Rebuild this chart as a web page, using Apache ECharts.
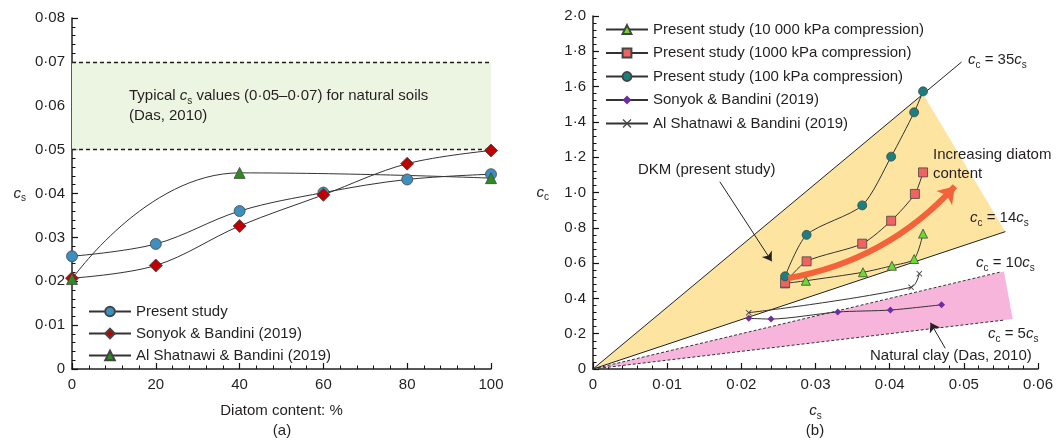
<!DOCTYPE html>
<html>
<head>
<meta charset="UTF-8">
<title>cs and cc</title>
<script src="https://cdn.jsdelivr.net/npm/echarts@6/dist/echarts.min.js"></script>
<style>
  html, body { margin: 0; background: #fff; }
  #chart { width: 1059px; height: 441px; }
</style>
</head>
<body>
<div id="chart"></div>
<script>
// (a) cs against diatom content
var diatom = [0, 20, 40, 60, 80, 100];
var presentCs = [0.0257, 0.0285, 0.0360, 0.0402, 0.0432, 0.0444];
var sonyokCs = [0.0207, 0.0236, 0.0326, 0.0397, 0.0468, 0.0498];
var shatDiatom = [0, 40, 100];
var shatCs = [0.0205, 0.0447, 0.0435];
var typicalBand = [0.05, 0.07];

// (b) cc against cs
var cs100 = [0.0259, 0.0288, 0.0363, 0.0402, 0.0433, 0.0445];
var cc100 = [0.525, 0.760, 0.927, 1.203, 1.454, 1.573];
var cs1000 = [0.0259, 0.0288, 0.0363, 0.0402, 0.0434, 0.0445];
var cc1000 = [0.489, 0.610, 0.710, 0.840, 0.992, 1.114];
var cs10000 = [0.0259, 0.0287, 0.0364, 0.0403, 0.0433, 0.0445];
var cc10000 = [0.485, 0.500, 0.548, 0.585, 0.623, 0.767];
var sonyokX = [0.0210, 0.0240, 0.0330, 0.0401, 0.0470];
var sonyokY = [0.287, 0.283, 0.323, 0.334, 0.364];
var shatX = [0.0210, 0.0429, 0.0440];
var shatY = [0.319, 0.463, 0.540];

// cc = k*cs guide lines, and the cs where each stops
var slopes = [35, 14, 10, 5];
var slopeEnds = [0.0497, 0.0556, 0.0550, 0.0555];
// shaded zones (corners in cs, cc)
var dkmZone = [[0, 0], [0.0445, 1.558], [0.0556, 0.778]];
var clayZone = [[0, 0], [0.0554, 0.552], [0.0566, 0.283]];
// arrows (start, end)
var trendArrow = [[0.0263, 0.514], [0.0488, 1.035]];
var dkmArrow = [[0.0171, 1.061], [0.0241, 0.610]];
var clayArrow = [[0.0475, 0.117], [0.0455, 0.262]];

var legendA = ['Present study', 'Sonyok & Bandini (2019)', 'Al Shatnawi & Bandini (2019)'];
// trailing space keeps the (b) names apart from the (a) ones in the legends
var legendB = ['Present study (10 000 kPa compression)', 'Present study (1000 kPa compression)',
               'Present study (100 kPa compression)', 'Sonyok & Bandini (2019) ', 'Al Shatnawi & Bandini (2019) '];

var ink = '#231f20';
var FONT = 'Liberation Sans, Arial, sans-serif';

function pairs(xs, ys) {
    return xs.map(function (x, i) { return [x, ys[i]]; });
}
function dot(v, d) {
    return v === 0 ? '0' : v.toFixed(d).replace('.', '·');
}

var rich = {
    i: { fontStyle: 'italic', fontSize: 15, fontFamily: FONT, color: ink, lineHeight: 20 },
    s: { fontSize: 10, fontFamily: FONT, color: ink, verticalAlign: 'bottom', lineHeight: 12 },
    n: { fontSize: 15, fontFamily: FONT, color: ink }
};

function axisBase(extra) {
    var a = {
        type: 'value',
        axisLine: { show: true, onZero: false, lineStyle: { color: ink, width: 1.5 } },
        axisTick: { show: true, inside: true, length: 6, lineStyle: { color: '#111', width: 1.2 } },
        minorTick: { show: true, splitNumber: 5, length: 3.5, lineStyle: { color: '#111', width: 1 } },
        splitLine: { show: false },
        nameTextStyle: { color: ink, fontSize: 15, fontFamily: FONT, rich: rich }
    };
    for (var k in extra) a[k] = extra[k];
    return a;
}

// tick labels: font and colour come through rich text
function tickLabel(margin, fmt) {
    return { margin: margin, rich: rich, formatter: function (v) { return '{n|' + fmt(v) + '}'; } };
}

// free text, centred vertically on y
function note(x, y, text, align) {
    return {
        text: text, left: x, top: y - 10, padding: 0, textAlign: align || 'left',
        textStyle: { color: ink, fontSize: 15, fontFamily: FONT, fontWeight: 'normal', lineHeight: 20, rich: rich }
    };
}

function lineSeries(name, data, xi, sym, size, color, extra) {
    var s = {
        name: name, type: 'line', xAxisIndex: xi, yAxisIndex: xi, data: data,
        smooth: 0.35, symbol: sym, symbolSize: size, z: 5,
        lineStyle: { color: '#333', width: 1 },
        itemStyle: { color: color, borderColor: '#444', borderWidth: 0.8 }
    };
    for (var k in extra) s[k] = extra[k];
    return s;
}

var crossPath = 'path://M0,1L1,0L5,4L9,0L10,1L6,5L10,9L9,10L5,6L1,10L0,9L4,5Z';

var series = [
    lineSeries(legendA[0], pairs(diatom, presentCs), 0, 'circle', 11, '#3d8fbf', {
        markArea: {
            silent: true, itemStyle: { color: '#ecf5e1' },
            data: [[{ xAxis: 0, yAxis: typicalBand[0] }, { xAxis: 100, yAxis: typicalBand[1] }]]
        },
        markLine: {
            silent: true, symbol: 'none', label: { show: false },
            lineStyle: { color: ink, type: [4, 3], width: 1.3 },
            data: typicalBand.map(function (v) { return { yAxis: v }; })
        }
    }),
    lineSeries(legendA[1], pairs(diatom, sonyokCs), 0, 'diamond', 13, '#c00000'),
    lineSeries(legendA[2], pairs(shatDiatom, shatCs), 0, 'triangle', 11, '#2e8b22', { smooth: 0.5 }),

    // zones in (b)
    {
        type: 'custom', xAxisIndex: 1, yAxisIndex: 1, silent: true, z: 1, data: [[0, 0]],
        renderItem: function (p, api) {
            return {
                type: 'group', children: [
                    { type: 'polygon', shape: { points: dkmZone.map(function (c) { return api.coord(c); }) }, style: { fill: '#fde5a1' } },
                    { type: 'polygon', shape: { points: clayZone.map(function (c) { return api.coord(c); }) }, style: { fill: '#f8b5dc' } }
                ]
            };
        }
    }
];

slopes.forEach(function (k, i) {
    series.push({
        type: 'line', xAxisIndex: 1, yAxisIndex: 1, silent: true, z: 2,
        symbol: 'none', data: [[0, 0], [slopeEnds[i], k * slopeEnds[i]]],
        lineStyle: { color: k >= 14 ? '#222' : '#333', width: 1, type: k >= 14 ? 'solid' : [3, 2] }
    });
});

series.push(
    lineSeries(legendB[0], pairs(cs10000, cc10000), 1, 'triangle', 9, '#66dd2c', { smooth: 0.25 }),
    lineSeries(legendB[1], pairs(cs1000, cc1000), 1, 'rect', 9, '#f06363', { smooth: 0.25 }),
    lineSeries(legendB[2], pairs(cs100, cc100), 1, 'circle', 9, '#19807f', { smooth: 0.25 }),
    lineSeries(legendB[3], pairs(sonyokX, sonyokY), 1, 'diamond', 7, '#6d2ea3', { smooth: 0.25, itemStyle: { color: '#6d2ea3' } }),
    lineSeries(legendB[4], pairs(shatX, shatY), 1, crossPath, 6, '#444', { smooth: 0.35, itemStyle: { color: '#444' } }),
    {
        type: 'lines', coordinateSystem: 'cartesian2d', xAxisIndex: 1, yAxisIndex: 1, silent: true, z: 6,
        symbol: ['none', 'arrow'], symbolSize: 16,
        lineStyle: { color: '#f4623a', width: 6, curveness: -0.17, opacity: 1 },
        data: [{ coords: trendArrow }]
    },
    {
        type: 'lines', coordinateSystem: 'cartesian2d', xAxisIndex: 1, yAxisIndex: 1, silent: true, z: 6,
        symbol: ['none', 'arrow'], symbolSize: 9,
        lineStyle: { color: '#222', width: 1, opacity: 1 },
        data: [{ coords: dkmArrow }, { coords: clayArrow }]
    }
);

var legendText = { color: ink, fontSize: 15, fontFamily: FONT };

var chart = echarts.init(document.getElementById('chart'));
chart.setOption({
    animation: false,
    backgroundColor: '#fff',
    title: [
        note(129, 96, 'Typical {i|c}{s|s} values (0·05–0·07) for natural soils'),
        note(129, 116, '(Das, 2010)'),
        note(282, 431, '(a)', 'center'),
        note(815, 431, '(b)', 'center'),
        note(968, 60, '{i|c}{s|c} = 35{i|c}{s|s}'),
        note(970, 218, '{i|c}{s|c} = 14{i|c}{s|s}'),
        note(976, 263, '{i|c}{s|c} = 10{i|c}{s|s}'),
        note(988, 334, '{i|c}{s|c} = 5{i|c}{s|s}'),
        note(638, 170, 'DKM (present study)'),
        note(933, 155, 'Increasing diatom'),
        note(933, 174, 'content'),
        note(870, 356, 'Natural clay (Das, 2010)')
    ],
    grid: [
        { left: 72, top: 18, width: 419, height: 351 },
        { left: 593, top: 16, width: 445, height: 353 }
    ],
    xAxis: [
        axisBase({
            gridIndex: 0, min: 0, max: 100, interval: 20,
            name: 'Diatom content: %', nameLocation: 'middle', nameGap: 34,
            axisLabel: tickLabel(8, function (v) { return String(v); })
        }),
        axisBase({
            gridIndex: 1, min: 0, max: 0.06, interval: 0.01,
            name: '{i|c}{s|s}', nameLocation: 'middle', nameGap: 32,
            axisLabel: tickLabel(8, function (v) { return dot(v, 2); })
        })
    ],
    yAxis: [
        axisBase({
            gridIndex: 0, min: 0, max: 0.08, interval: 0.01,
            name: '{i|c}{s|s}', nameLocation: 'middle', nameGap: 46, nameRotate: 0,
            axisLabel: tickLabel(7, function (v) { return dot(v, 2); })
        }),
        axisBase({
            gridIndex: 1, min: 0, max: 2, interval: 0.2,
            name: '{i|c}{s|c}', nameLocation: 'middle', nameGap: 44, nameRotate: 0,
            axisLabel: tickLabel(7, function (v) { return dot(v, 1); })
        })
    ],
    legend: [
        {
            left: 83, top: 299, orient: 'vertical', itemWidth: 42, itemHeight: 12, itemGap: 7,
            textStyle: legendText, data: legendA
        },
        {
            left: 600, top: 17, orient: 'vertical', itemWidth: 42, itemHeight: 11, itemGap: 8.5,
            textStyle: legendText, data: legendB
        }
    ],
    series: series
});
</script>
</body>
</html>
